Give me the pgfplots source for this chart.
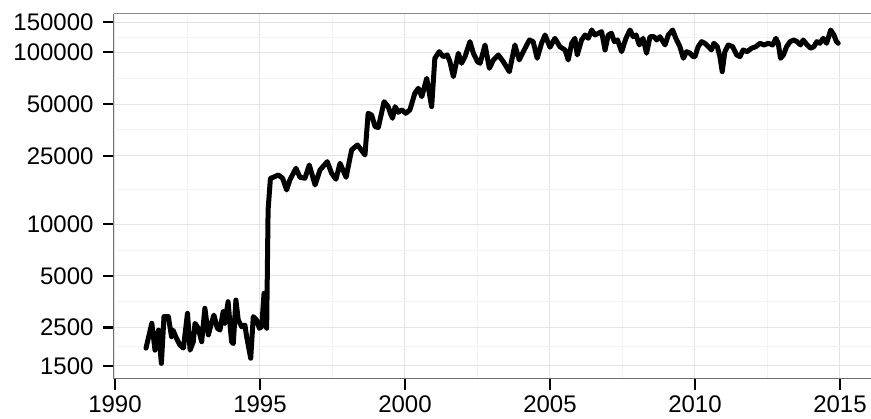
\documentclass[border=0pt]{standalone}
\usepackage{pgfplots}
\pgfplotsset{compat=1.18}
\usepackage{fontspec}
\setmainfont{Liberation Sans}
\definecolor{majgrid}{HTML}{E3E3E3}
\definecolor{mingrid}{HTML}{F3F3F3}
\definecolor{axline}{HTML}{6E6E6E}
\definecolor{border}{HTML}{8A8A8A}
\begin{document}
\begin{tikzpicture}
\begin{axis}[
  scale only axis, width=757pt, height=364.7pt,
  xmin=1989.966, xmax=2016.07,
  ymode=log, ymin=1262, ymax=167000,
  xtick={1990,1995,2000,2005,2010,2015},
  xticklabels={1990,1995,2000,2005,2010,2015},
  minor xtick={1992.5,1997.5,2002.5,2007.5,2012.5},
  ytick={1500,2500,5000,10000,25000,50000,100000,150000},
  yticklabels={1500,2500,5000,10000,25000,50000,100000,150000},
  minor ytick={1936,3536,7071,15811,35355,70711,122474},
  grid=both,
  major grid style={draw=majgrid, line width=1pt},
  minor grid style={draw=mingrid, line width=1pt},
  axis x line*=bottom, axis y line*=left,
  axis line style={-, draw=axline, line width=1pt},
  tick align=outside, major tick length=11pt, minor tick length=0pt,
  major tick style={black, line width=2.4pt},
  /pgf/number format/assume math mode=true,
  ticklabel style={font=\fontsize{24}{28}\selectfont, text=black},
  xticklabel style={yshift=-2.5pt},
  yticklabel style={xshift=-6pt},
  after end axis/.code={\draw[border, line width=1pt] (rel axis cs:0,1) -- (rel axis cs:1,1);},
]
\addplot[black, line width=5pt, line join=round, line cap=round, mark=none] table {
x y
1991.07 1900
1991.27 2650
1991.38 1850
1991.50 2420
1991.60 1550
1991.69 2900
1991.84 2900
1991.95 2215
1992.00 2420
1992.12 2170
1992.24 1980
1992.36 1900
1992.50 3030
1992.59 1850
1992.70 2070
1992.76 2650
1992.87 2480
1992.99 2070
1993.10 3240
1993.22 2270
1993.28 2480
1993.41 2960
1993.53 2480
1993.62 2420
1993.73 3100
1993.79 2650
1993.90 3540
1994.02 2070
1994.08 2020
1994.17 3620
1994.25 2770
1994.37 2530
1994.48 2590
1994.54 2215
1994.68 1660
1994.77 2900
1994.88 2770
1994.98 2480
1995.06 2530
1995.14 3960
1995.23 2480
1995.28 12100
1995.36 18500
1995.46 18740
1995.63 19330
1995.78 18500
1995.92 15810
1996.03 18070
1996.24 21150
1996.38 18740
1996.55 18500
1996.70 22100
1996.90 16900
1997.07 20660
1997.32 23100
1997.47 19770
1997.62 18250
1997.76 22610
1997.97 18740
1998.16 27030
1998.36 28900
1998.45 27640
1998.62 25270
1998.73 44160
1998.85 43170
1998.97 36920
1999.08 36500
1999.28 51600
1999.42 48270
1999.50 44000
1999.57 41300
1999.66 48270
1999.77 44760
1999.89 46200
2000.03 44160
2000.17 46200
2000.34 57750
2000.46 61740
2000.58 55160
2000.75 70620
2000.92 48270
2001.03 92280
2001.18 100800
2001.32 94280
2001.46 96450
2001.55 88170
2001.67 72130
2001.84 98670
2001.95 86300
2002.07 94280
2002.24 115300
2002.36 98670
2002.50 88170
2002.59 86300
2002.76 110300
2002.91 80700
2003.05 90200
2003.22 96450
2003.39 88170
2003.60 77100
2003.79 110300
2003.94 90200
2004.08 100800
2004.29 117900
2004.42 115300
2004.56 92280
2004.71 112800
2004.83 126100
2005.00 107000
2005.17 120600
2005.34 107800
2005.52 103100
2005.63 90200
2005.75 112800
2005.86 120600
2005.94 96450
2006.09 117900
2006.21 126100
2006.32 120600
2006.44 134800
2006.55 126100
2006.67 129000
2006.78 131800
2006.90 103100
2007.01 126100
2007.12 129000
2007.22 115300
2007.33 117900
2007.47 100800
2007.62 120600
2007.76 134800
2007.87 123200
2007.97 126100
2008.08 110300
2008.21 120600
2008.33 98670
2008.45 123200
2008.59 123200
2008.68 117900
2008.79 123200
2008.97 110300
2009.08 126100
2009.23 134800
2009.34 120600
2009.48 107800
2009.60 92280
2009.71 100800
2009.83 98670
2009.94 94280
2010.00 94280
2010.11 107800
2010.23 115300
2010.34 112800
2010.46 107800
2010.57 103100
2010.65 112800
2010.77 107800
2010.86 94280
2010.94 77100
2011.03 100800
2011.15 110300
2011.30 107800
2011.44 96450
2011.55 94280
2011.66 103100
2011.80 100800
2011.95 105500
2012.10 107800
2012.24 112800
2012.38 110300
2012.53 112800
2012.68 110300
2012.79 120600
2012.87 112800
2012.95 92280
2013.05 96450
2013.16 107800
2013.28 115300
2013.41 117900
2013.52 115300
2013.64 110300
2013.73 117900
2013.87 110300
2013.99 105500
2014.10 107800
2014.20 115300
2014.31 112800
2014.42 120600
2014.54 112800
2014.68 134800
2014.79 126100
2014.88 115300
2014.94 112800
};
\end{axis}
\pgfresetboundingbox
\path (current axis.south west) ++(-114pt,-40.3pt) rectangle ++(871pt,419pt);
\end{tikzpicture}
\end{document}
